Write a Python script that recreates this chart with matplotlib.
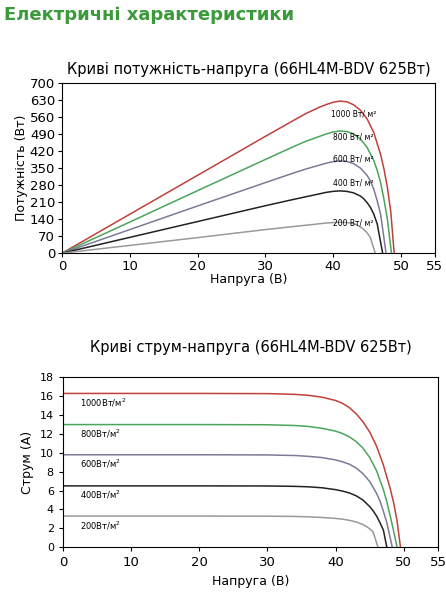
import matplotlib
matplotlib.use("Agg")
import matplotlib.pyplot as plt

labels_p = ["1000 Вт/ м²", "800 Вт/ м²", "600 Вт/ м²", "400 Вт/ м²", "200 Вт/ м²"]
labels_i = ["1000Вт/м$^2$", "800Вт/м$^2$", "600Вт/м$^2$", "400Вт/м$^2$", "200Вт/м$^2$"]
colors = ["#c0413a", "#4aa55a", "#7c7a98", "#222222", "#9a9a9a"]

# power-voltage curves
pv_v = [
    [0, 10, 20, 30, 34, 36, 38, 39, 40, 41, 42, 43, 44, 45, 46, 47, 47.5, 48, 48.5, 49],
    [0, 10, 20, 30, 34, 36, 38, 39, 40, 41, 42, 43, 44, 45, 46, 46.5, 47, 47.5, 48, 48.6],
    [0, 10, 20, 30, 34, 36, 38, 39, 40, 41, 42, 43, 44, 45, 45.5, 46, 46.5, 47, 47.8],
    [0, 10, 20, 30, 34, 36, 38, 39, 40, 41, 42, 43, 44, 44.5, 45, 45.5, 46, 46.5, 47.3],
    [0, 10, 20, 30, 34, 36, 38, 39, 40, 41, 42, 42.5, 43, 43.5, 44, 44.5, 45, 45.5, 46.2],
]
pv_p = [
    [0, 160, 320, 480, 543, 574, 600, 611, 620, 625, 622, 610, 588, 552, 495, 405, 345, 270, 170, 0],
    [0, 128, 257, 385, 436, 460, 480, 490, 498, 502, 500, 490, 470, 435, 380, 340, 290, 220, 140, 0],
    [0, 97, 194, 290, 328, 346, 362, 370, 376, 379, 377, 368, 350, 320, 296, 262, 215, 160, 0],
    [0, 65, 130, 195, 220, 232, 244, 250, 254, 256, 254, 248, 235, 224, 208, 188, 160, 120, 0],
    [0, 32, 64, 97, 109, 115, 121, 124, 126, 127, 126, 124, 121, 116, 108, 98, 84, 64, 0],
]
pv_label_xy = [(43, 570), (43, 477), (43, 385), (43, 290), (43, 125)]

# current-voltage curves
iv_v = [
    [0, 10, 20, 30, 34, 36, 38, 40, 41, 42, 43, 44, 45, 46, 47, 48, 48.5, 49, 49.5],
    [0, 10, 20, 30, 34, 36, 38, 40, 41, 42, 43, 44, 45, 46, 47, 47.5, 48, 48.5, 49],
    [0, 10, 20, 30, 34, 36, 38, 40, 41, 42, 43, 44, 45, 46, 46.5, 47, 47.5, 48.3],
    [0, 10, 20, 30, 34, 36, 38, 40, 41, 42, 43, 44, 45, 45.5, 46, 46.5, 47, 47.5],
    [0, 10, 20, 30, 34, 36, 38, 40, 41, 42, 43, 44, 44.5, 45, 45.5, 46.2],
]
iv_i = [
    [16.3, 16.3, 16.3, 16.28, 16.2, 16.1, 15.9, 15.55, 15.25, 14.8, 14.15, 13.3, 12.2, 10.7, 8.7, 6.2, 4.7, 2.8, 0],
    [13.0, 13.0, 13.0, 12.98, 12.9, 12.8, 12.6, 12.3, 12.05, 11.7, 11.2, 10.5, 9.5, 8.1, 6.1, 4.8, 3.3, 1.7, 0],
    [9.8, 9.8, 9.8, 9.78, 9.72, 9.63, 9.5, 9.25, 9.05, 8.8, 8.4, 7.8, 6.95, 5.7, 4.9, 3.8, 2.6, 0],
    [6.5, 6.5, 6.5, 6.49, 6.45, 6.4, 6.3, 6.1, 5.95, 5.75, 5.45, 5.0, 4.3, 3.85, 3.3, 2.6, 1.8, 0],
    [3.3, 3.3, 3.3, 3.29, 3.26, 3.22, 3.15, 3.05, 2.97, 2.85, 2.68, 2.4, 2.2, 1.95, 1.6, 0],
]
iv_label_y = [15.3, 12.0, 8.8, 5.6, 2.3]

fig = plt.figure(figsize=(4.46, 6), dpi=100)
fig.text(0.01, 0.975, "Електричні характеристики", color="#3b9b3b",
         fontsize=13, fontweight="bold", va="center")

ax1 = fig.add_axes([0.139, 0.578, 0.836, 0.284])
for v, p, c, lab, xy in zip(pv_v, pv_p, colors, labels_p, pv_label_xy):
    ax1.plot(v, p, color=c, lw=1.1)
    ax1.text(xy[0], xy[1], lab, fontsize=5.5, ha="center", va="center")
ax1.set_xlim(0, 55)
ax1.set_ylim(0, 700)
ax1.set_xticks([0, 10, 20, 30, 40, 50, 55])
ax1.set_yticks(range(0, 701, 70))
ax1.tick_params(labelsize=9.5, length=3, direction="out", pad=2)
ax1.set_xlabel("Напруга (В)", fontsize=9, labelpad=0)
ax1.set_ylabel("Потужність (Вт)", fontsize=9, labelpad=1)
ax1.set_title("Криві потужність-напруга (66HL4M-BDV 625Вт)", fontsize=10.5, pad=6)

ax2 = fig.add_axes([0.141, 0.088, 0.841, 0.283])
for v, i, c, lab, ly in zip(iv_v, iv_i, colors, labels_i, iv_label_y):
    ax2.plot(v, i, color=c, lw=1.1)
    ax2.text(2.5, ly, lab, fontsize=6, ha="left", va="center")
ax2.set_xlim(0, 55)
ax2.set_ylim(0, 18)
ax2.set_xticks([0, 10, 20, 30, 40, 50, 55])
ax2.set_yticks(range(0, 19, 2))
ax2.tick_params(axis="x", labelsize=9.5, length=3)
ax2.tick_params(axis="y", labelsize=8, length=3)
ax2.set_xlabel("Напруга (В)", fontsize=9)
ax2.set_ylabel("Струм (А)", fontsize=9)
ax2.set_title("Криві струм-напруга (66HL4M-BDV 625Вт)", fontsize=10.5, pad=18)

fig.savefig("out.png", dpi=100)
